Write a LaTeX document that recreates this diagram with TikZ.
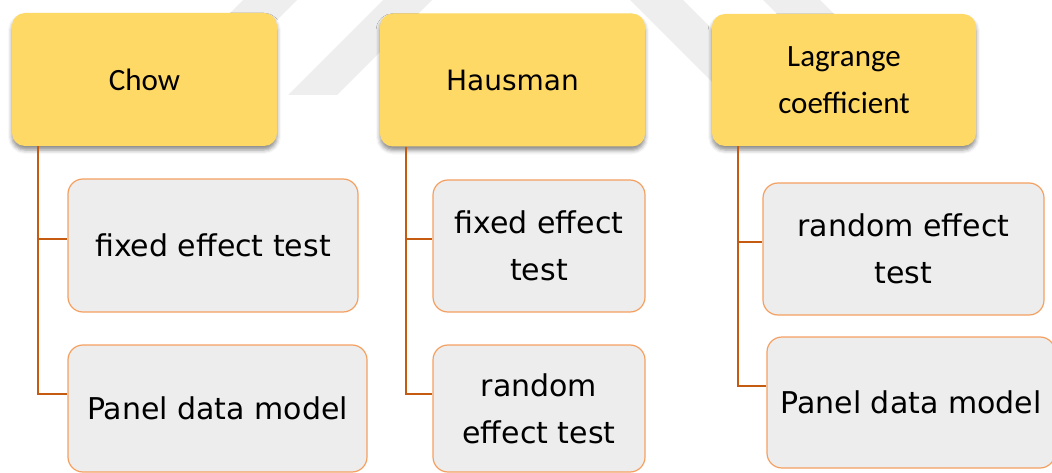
\documentclass[tikz,border=0pt]{standalone}
\usepackage{fontspec}
\setmainfont{Carlito}
\newfontfamily\comicf{DejaVu Sans}
\usetikzlibrary{shadows.blur}
\definecolor{topfill}{HTML}{FFD966}
\definecolor{boxfill}{HTML}{EDEDED}
\definecolor{boxline}{HTML}{F4A060}
\definecolor{connline}{HTML}{C55A11}
\definecolor{wmark}{HTML}{EEEEEE}
\begin{document}
\begin{tikzpicture}[x=1pt,y=-1pt,
  topbox/.style={rounded corners=13pt, fill=topfill, minimum width=265pt,
    minimum height=133pt, inner sep=0pt, align=center,
    font=\fontsize{31}{47}\selectfont,
    blur shadow={shadow xshift=0pt, shadow yshift=-4pt, shadow blur radius=4pt, shadow opacity=45}},
  graybox/.style={rounded corners=15pt, fill=boxfill, draw=boxline, line width=1.2pt,
    inner sep=0pt, align=center, font=\comicf\fontsize{30}{47}\selectfont},
  conn/.style={draw=connline, line width=2.6pt},
  wm/.style={fill=wmark, draw=none}]
\useasboundingbox (0,0) rectangle (1052,473);
% faint watermark bands
\fill[wm] (243,0) -- (297,0) -- (202,95) -- (148,95) -- cycle;
\fill[wm] (383,0) -- (432,0) -- (337,95) -- (288,95) -- cycle;
\fill[wm] (630,0) -- (683,0) -- (783,100) -- (730,100) -- cycle;
\fill[wm] (763,0) -- (820,0) -- (920,100) -- (863,100) -- cycle;
% top boxes
\node[topbox] (chow) at (144.5,79.5) {Chow};
\node[topbox, font=\comicf\fontsize{28}{40}\selectfont] (haus) at (512.5,80) {Hausman};
\node[topbox, minimum width=264pt, minimum height=132pt] (lagr) at (844,80) {Lagrange\\coefficient};
% child boxes
\node[graybox, minimum width=290pt, minimum height=133pt] (c1a) at (213,245.5) {fixed effect test};
\node[graybox, minimum width=299pt, minimum height=127pt] (c1b) at (217.5,408.5) {Panel data model};
\node[graybox, minimum width=212pt, minimum height=132pt] (c2a) at (539,246) {fixed effect\\test};
\node[graybox, minimum width=212pt, minimum height=127pt] (c2b) at (539,408.5) {random\\effect test};
\node[graybox, minimum width=281pt, minimum height=132pt] (c3a) at (903.5,249) {random effect\\test};
\node[graybox, minimum width=288pt, minimum height=131pt] (c3b) at (911,402.5) {Panel data model};
% connectors
\draw[conn] ([xshift=26pt]chow.south west) |- ([yshift=6.5pt]c1a.west);
\draw[conn] ([xshift=26pt]chow.south west) |- ([yshift=14.5pt]c1b.west);
\draw[conn] ([xshift=26pt]haus.south west) |- ([yshift=7pt]c2a.west);
\draw[conn] ([xshift=26pt]haus.south west) |- ([yshift=14.5pt]c2b.west);
\draw[conn] ([xshift=26pt]lagr.south west) |- ([yshift=7pt]c3a.west);
\draw[conn] ([xshift=26pt]lagr.south west) |- ([yshift=16.5pt]c3b.west);
\end{tikzpicture}
\end{document}
